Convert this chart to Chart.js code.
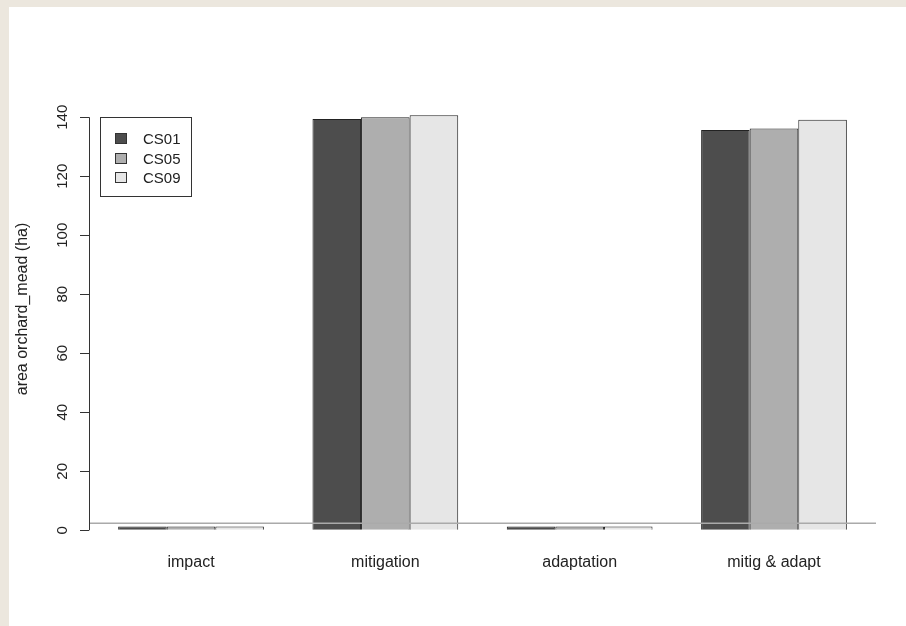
<!DOCTYPE html>
<html>
<head>
<meta charset="utf-8">
<script src="https://cdn.jsdelivr.net/npm/chart.js@4"></script>
<style>
  html, body { margin: 0; padding: 0; }
  body { width: 906px; height: 626px; background: #ece7de; position: relative; overflow: hidden; font-family: "Liberation Sans", Arial, sans-serif; }
  #panel { position: absolute; left: 9px; top: 7px; right: 0; bottom: 0; background: #fff; }
  #chart1 { position: absolute; left: 0; top: 0; }
  #legend { position: absolute; left: 100px; top: 117px; width: 92px; height: 80px; box-sizing: border-box;
            border: 1px solid #333; padding-top: 11px; }
  #legend .row { height: 19.5px; display: flex; align-items: center; padding-left: 14px; font-size: 15px; color: #222; }
  #legend .sw { width: 12px; height: 11px; box-sizing: border-box; border: 1px solid #333; margin-right: 16px; }
</style>
</head>
<body>
<div id="panel"></div>
<canvas id="chart1" width="906" height="626"></canvas>
<div id="legend"></div>
<script>
const categories = ['impact', 'mitigation', 'adaptation', 'mitig & adapt'];
const seriesNames = ['CS01', 'CS05', 'CS09'];
const cs01 = [1.3, 139.4, 1.3, 135.7];
const cs05 = [1.3, 140.0, 1.3, 136.2];
const cs09 = [1.3, 140.7, 1.3, 139.1];
const yTicks = [0, 20, 40, 60, 80, 100, 120, 140];
const refLine = 2.4;

const fills = ['#4d4d4d', '#aeaeae', '#e6e6e6'];
const textColor = '#222';

// R barplot layout: each group of 3 bars starts after a 1-bar gap
const groupCenters = categories.map((c, i) => 2.5 + 4 * i);

function toPoints(values) {
  return values.map((v, i) => ({ x: groupCenters[i], y: v }));
}

const rAxisPlugin = {
  id: 'rAxis',
  afterDatasetsDraw(chart) {
    const { ctx, chartArea, scales } = chart;
    const y = scales.y.getPixelForValue(refLine);
    ctx.save();
    ctx.strokeStyle = '#aaaaaa';
    ctx.lineWidth = 1.5;
    ctx.beginPath();
    ctx.moveTo(chartArea.left, y);
    ctx.lineTo(chartArea.right, y);
    ctx.stroke();
    ctx.restore();
  },
  afterDraw(chart) {
    const { ctx, chartArea, scales } = chart;
    const y0 = scales.y.getPixelForValue(yTicks[0]);
    const y1 = scales.y.getPixelForValue(yTicks[yTicks.length - 1]);
    ctx.save();
    ctx.strokeStyle = '#333';
    ctx.lineWidth = 1;
    ctx.beginPath();
    ctx.moveTo(chartArea.left + 0.5, y0);
    ctx.lineTo(chartArea.left + 0.5, y1);
    ctx.stroke();
    ctx.restore();
  }
};

function buildLegend() {
  const box = document.getElementById('legend');
  box.innerHTML = seriesNames.map((n, i) =>
    `<div class="row"><span class="sw" style="background:${fills[i]}"></span>${n}</div>`
  ).join('');
}

function createChart() {
  const ctx = document.getElementById('chart1').getContext('2d');
  const series = [cs01, cs05, cs09];

  new Chart(ctx, {
    type: 'bar',
    data: {
      datasets: series.map((vals, i) => ({
        label: seriesNames[i],
        data: toPoints(vals),
        backgroundColor: fills[i],
        borderColor: '#222',
        borderWidth: 1,
        categoryPercentage: 0.75,
        barPercentage: 1
      }))
    },
    options: {
      responsive: false,
      animation: false,
      devicePixelRatio: 1,
      layout: { padding: { left: 0, top: 70, right: 30, bottom: 54 } },
      plugins: {
        legend: { display: false },
        tooltip: { enabled: false }
      },
      scales: {
        x: {
          type: 'linear',
          min: 0.4,
          max: 16.6,
          offset: false,
          grid: { display: false, drawTicks: false },
          border: { display: false },
          afterBuildTicks: (scale) => { scale.ticks = groupCenters.map(v => ({ value: v })); },
          afterFit: (scale) => { scale.height = 24; },
          ticks: {
            autoSkip: false,
            maxRotation: 0,
            padding: 5,
            color: textColor,
            font: { family: '"Liberation Sans", Arial, sans-serif', size: 16 },
            callback: (value, index) => categories[index]
          }
        },
        y: {
          min: -6,
          max: 156,
          grid: { display: true, drawOnChartArea: false, drawTicks: true, tickLength: 9, color: '#333' },
          border: { display: false },
          afterBuildTicks: (scale) => { scale.ticks = yTicks.map(v => ({ value: v })); },
          afterFit: (scale) => { scale.width = 89; },
          title: {
            display: true,
            text: 'area orchard_mead (ha)',
            color: textColor,
            padding: { top: 13, bottom: 0 },
            font: { family: '"Liberation Sans", Arial, sans-serif', size: 16 }
          },
          ticks: {
            minRotation: 90,
            maxRotation: 90,
            crossAlign: 'center',
            padding: 5,
            color: textColor,
            font: { family: '"Liberation Sans", Arial, sans-serif', size: 15 }
          }
        }
      }
    },
    plugins: [rAxisPlugin]
  });
}

buildLegend();
createChart();
</script>
</body>
</html>
